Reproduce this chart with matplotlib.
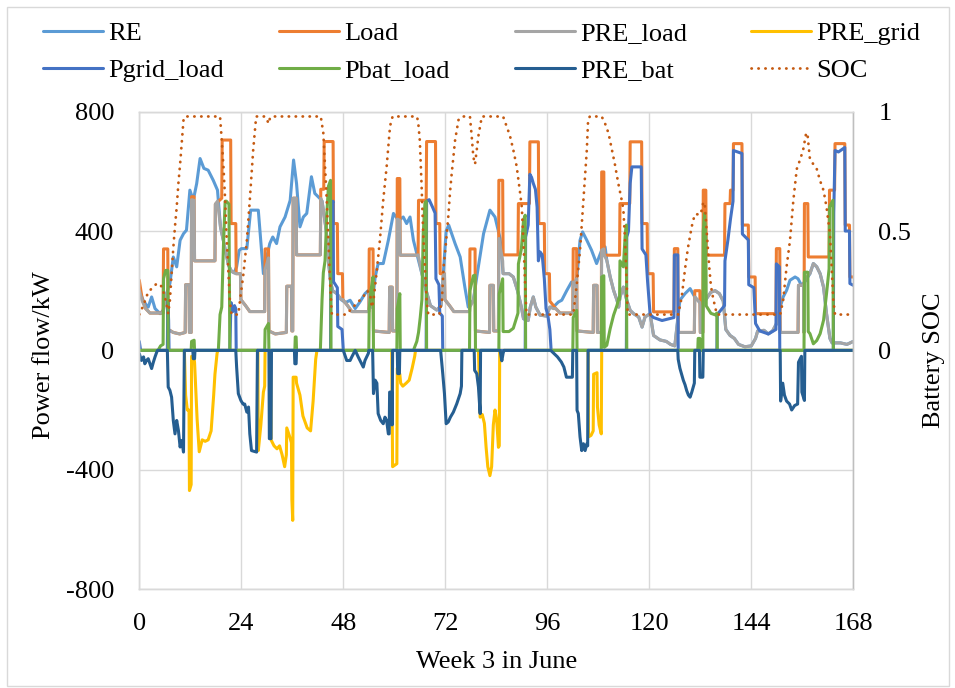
import matplotlib
matplotlib.use("Agg")
import matplotlib.pyplot as plt
from matplotlib.patches import Rectangle

plt.rcParams['font.family'] = ['Liberation Serif', 'DejaVu Serif']

# ---------------- data (hour, value) ----------------
re_pts = [(0, 201), (0.9, 168), (1.7, 151), (2.1, 145), (2.9, 179), (3.7, 140), (4.9, 123), (5.6, 134), (6.4, 190),
          (7.2, 224), (8.0, 313), (8.8, 280), (9.6, 369), (10.4, 391), (11.1, 403), (11.9, 537), (12.7, 503),
          (13.5, 559), (14.3, 643), (15.2, 610), (16.2, 604), (17.4, 570), (18.4, 537), (19.1, 414), (19.6, 380),
          (20.2, 340), (21.0, 285), (21.7, 265), (22.3, 260), (22.9, 280), (23.5, 335), (24.0, 341), (25.3, 341),
          (26.2, 470), (28.0, 470), (29.2, 257), (30.0, 313), (30.7, 358), (31.4, 380), (32.3, 358), (33.1, 414),
          (34.3, 447), (35.5, 503), (36.3, 638), (37.0, 559), (37.8, 414), (38.6, 447), (39.4, 459), (40.5, 582),
          (41.3, 526), (42.5, 509), (43.0, 500), (43.5, 450), (44.0, 400), (44.5, 300), (45.0, 230), (45.5, 200),
          (46.5, 190), (47.5, 170), (48.5, 160), (49.6, 168), (50.8, 140), (51.9, 162), (53.1, 190), (53.9, 201),
          (54.7, 145), (55.5, 246), (56.2, 291), (57.4, 291), (58.6, 369), (59.8, 459), (61.0, 436), (62.1, 447),
          (62.9, 425), (63.7, 447), (64.5, 369), (65.3, 324), (66.5, 257), (67.5, 200), (68.5, 150), (70.0, 135),
          (71.0, 150), (71.5, 250), (72.2, 400), (72.8, 420), (74.3, 358), (75.5, 313), (76.6, 212), (77.4, 145),
          (78.6, 168), (79.4, 246), (81.0, 391), (82.5, 470), (83.7, 447), (84.9, 375), (85.6, 257), (87.0, 257),
          (88.0, 246), (89.0, 200), (89.9, 145), (90.4, 106), (91.5, 100), (92.0, 145), (92.7, 179), (93.3, 145),
          (94.3, 118), (95.8, 115), (96.6, 145), (97.4, 145), (98.6, 162), (99.4, 168), (100.6, 201), (101.7, 229),
          (102.5, 220), (103.0, 250), (103.7, 369), (104.3, 397), (105.3, 369), (106.4, 336), (107.6, 291),
          (108.8, 336), (109.6, 347), (110.0, 302), (110.8, 246), (111.6, 201), (112.4, 168), (112.8, 145),
          (113.1, 179), (113.9, 212), (114.7, 168), (115.5, 134), (116.3, 123), (117.5, 112), (118.3, 78),
          (119.0, 112), (120.2, 123), (121.0, 50), (122.5, 35), (124.0, 30), (125.0, 20), (126.0, 15), (126.8, 120),
          (127.2, 168), (128.4, 190), (129.6, 207), (130.7, 179), (131.9, 160), (132.7, 150), (133.3, 170),
          (134.5, 195), (135.5, 200), (136.5, 190), (137.4, 165), (138.0, 70), (139.0, 50), (140.0, 40), (141.0, 20),
          (142.5, 12), (144.0, 15), (145.0, 40), (145.5, 65), (147.0, 67), (148.0, 55), (149.0, 65), (150.0, 90),
          (150.8, 145), (151.5, 179), (152.3, 201), (153.1, 235), (154.3, 246), (155.0, 240), (155.8, 218),
          (156.6, 230), (157.8, 257), (158.6, 291), (159.4, 280), (160.2, 257), (161.0, 212), (161.7, 123),
          (162.5, 40), (163.0, 25), (165.0, 25), (166.5, 20), (168.0, 30)]

load_pts = [(0, 235), (0.7, 170), (1.5, 140), (2.5, 125), (5.6, 125), (5.7, 340), (6.7, 340), (6.8, 70), (8, 60),
            (9.5, 55), (10.8, 60), (10.9, 220), (11.7, 220), (11.8, 60), (12.2, 60), (12.3, 515), (12.9, 515),
            (13.0, 300), (17.8, 300), (17.9, 490), (19.4, 510), (19.5, 705), (21.5, 705), (21.6, 425), (22.7, 425),
            (22.8, 257), (23.8, 257), (23.9, 170),
            (25, 150), (26, 130), (29.5, 130), (29.6, 340), (30.4, 340), (30.5, 65), (32, 55), (34.6, 60), (34.7, 215),
            (35.8, 215), (35.9, 65), (36.1, 65), (36.2, 510), (36.9, 510), (37.0, 320), (42.6, 320), (42.7, 540),
            (43.4, 540), (43.5, 700), (45.6, 700), (45.7, 425), (46.6, 425), (46.7, 257), (47.8, 257), (47.9, 170),
            (49, 150), (50, 130), (54.0, 130), (54.1, 340), (55.0, 340), (55.1, 65), (58.8, 60), (58.9, 212),
            (59.5, 212), (59.6, 65), (60.6, 65), (60.7, 576), (61.3, 576), (61.4, 319), (65.6, 319), (65.7, 503),
            (67.5, 503), (67.6, 700), (69.7, 700), (69.8, 425), (70.7, 425), (70.8, 257), (71.8, 257), (71.9, 170),
            (73, 150), (74, 130), (77.7, 130), (77.8, 340), (79.0, 340), (79.1, 65), (82.4, 60), (82.5, 218),
            (83.3, 218), (83.4, 65), (84.5, 65), (84.6, 570), (85.5, 570), (85.6, 320), (89.1, 320), (89.2, 492),
            (91.8, 492), (91.9, 699), (93.9, 699), (94.0, 425), (95.3, 425), (95.4, 257), (96.5, 257), (96.6, 165),
            (98, 140), (99, 125), (102.0, 125), (102.1, 341), (102.9, 341), (103.0, 65), (106.8, 60), (106.9, 218),
            (107.7, 218), (107.8, 60), (108.7, 60), (108.8, 598), (109.3, 598), (109.4, 319), (113.0, 319),
            (113.1, 492), (115.4, 492), (115.5, 699), (118.2, 699), (118.3, 425), (119.5, 425), (119.6, 257),
            (120.9, 257), (121.0, 129),
            (125.8, 129), (125.9, 341), (126.7, 341), (126.8, 60), (130.6, 60), (130.7, 200), (131.9, 200),
            (132.0, 60), (132.6, 60), (132.7, 537), (133.3, 537), (133.4, 319), (137.7, 319), (137.8, 492),
            (139.0, 492), (139.1, 537), (139.7, 537), (139.8, 693), (141.8, 693), (141.9, 420), (143.3, 420),
            (143.4, 246), (144.9, 246), (145.0, 123),
            (149.8, 123), (149.9, 341), (150.7, 341), (150.8, 60), (155.0, 60), (155.1, 218), (156.3, 218),
            (156.4, 60), (156.5, 492), (157.3, 492), (157.4, 313), (162.3, 313), (162.4, 537), (163.6, 537),
            (163.7, 693), (166.0, 693), (166.1, 420), (167.1, 420), (167.2, 246), (168, 246)]

pre_load_pts = [(0, 201), (0.7, 165), (1.5, 140), (2.5, 125), (5.6, 125), (5.7, 134), (6.4, 190), (6.7, 195),
                (6.8, 70), (8, 60), (9.5, 55), (10.8, 60), (10.9, 220), (11.7, 220), (11.8, 60), (12.2, 60),
                (12.3, 505), (12.9, 503), (13.0, 300), (17.8, 300), (17.9, 490), (18.4, 500), (19.1, 414),
                (19.6, 380), (20.2, 340), (21.0, 285), (21.7, 265), (22.3, 260), (22.7, 257), (23.8, 257),
                (23.9, 170),
                (25, 150), (26, 130), (29.5, 130), (29.6, 270), (30.4, 310), (30.5, 65), (32, 55), (34.6, 60),
                (34.7, 215), (35.8, 215), (35.9, 65), (36.1, 65), (36.2, 510), (36.9, 510), (37.0, 320), (42.6, 320),
                (42.7, 509), (43.0, 500), (43.4, 460), (44.0, 400), (44.5, 300), (45.0, 230), (45.5, 200),
                (46.5, 190), (47.5, 170), (47.9, 170),
                (49, 150), (50, 130), (54.0, 130), (54.1, 190), (54.7, 145), (55.0, 200), (55.1, 65), (58.8, 60),
                (58.9, 212), (59.5, 212), (59.6, 65), (60.6, 65), (60.7, 440), (61.3, 436), (61.4, 319), (65.3, 319),
                (65.6, 320), (66.5, 257), (67.5, 200), (68.5, 150), (70.0, 135), (71.0, 150), (71.5, 250),
                (71.8, 257), (71.9, 170),
                (73, 150), (74, 130), (77.7, 130), (77.8, 145), (78.6, 168), (79.0, 200), (79.1, 65), (82.4, 60),
                (82.5, 218), (83.3, 218), (83.4, 65), (84.5, 65), (84.6, 375), (85.5, 300), (85.6, 257), (87.0, 257),
                (88.0, 246), (89.0, 200), (89.9, 145), (90.4, 106), (91.5, 100), (92.0, 145), (92.7, 179),
                (93.3, 145), (94.3, 118), (95.8, 115), (96.6, 145),
                (97.4, 140), (98, 140), (99, 125), (102.0, 125), (102.1, 229), (102.5, 220), (102.9, 240),
                (103.0, 65), (106.8, 60), (106.9, 218), (107.7, 218), (107.8, 60), (108.7, 60), (108.8, 336),
                (109.3, 340), (109.4, 319), (110.0, 302), (110.8, 246), (111.6, 201), (112.4, 168), (112.8, 145),
                (113.1, 179), (113.9, 212), (114.7, 168), (115.5, 134), (116.3, 123), (117.5, 112), (118.3, 78),
                (119.0, 112), (120.2, 123), (121.0, 50), (122.5, 35), (124.0, 30), (125.0, 20), (126.0, 15),
                (126.7, 100),
                (126.8, 60), (130.6, 60), (130.7, 179), (131.9, 160), (132.0, 60), (132.6, 60), (132.7, 150),
                (133.3, 170), (134.5, 195), (135.5, 200), (136.5, 190), (137.4, 165), (138.0, 70), (139.0, 50),
                (140.0, 40), (141.0, 20), (142.5, 12), (144.0, 15), (145.0, 40), (145.5, 65), (147.0, 67),
                (148.0, 55), (149.0, 65), (149.9, 90), (150.7, 140), (150.8, 60),
                (155.0, 60), (155.1, 218), (156.3, 218), (156.4, 60), (156.5, 230), (157.3, 250), (157.8, 257),
                (158.6, 291), (159.4, 280), (160.2, 257), (161.0, 212), (161.7, 123), (162.5, 40), (163.0, 25),
                (165.0, 25), (166.5, 20), (168.0, 30)]

pre_grid_pts = [(0, 0), (10.6, 0), (10.9, -150), (11.3, -200), (11.7, -200), (11.8, -470), (12.2, -450),
                (12.3, -20), (12.9, -30), (13.0, -40), (13.6, -230), (14.1, -340), (14.8, -300), (15.5, -305),
                (16.2, -300), (16.9, -270), (17.5, -150), (17.8, -80), (18.3, -10), (18.5, 0),
                (27.9, 0), (28.0, -336), (28.6, -250), (29.2, -140), (29.5, -120), (29.6, 0), (30.9, 0),
                (31.0, -300), (31.7, -320), (32.4, -330), (33.0, -320), (33.6, -350), (34.2, -390), (34.6, -350),
                (34.7, -260), (35.4, -290), (35.8, -310), (35.9, -500), (36.1, -570), (36.2, -90), (36.9, -90),
                (37.0, -110), (37.8, -150), (38.5, -220), (39.5, -260), (40.3, -270), (40.9, -170), (41.5, -30),
                (41.8, 0),
                (59.4, 0), (59.6, -390), (60.6, -380), (60.7, -60), (61.3, -80), (61.5, -110), (62.0, -120),
                (62.8, -110), (63.5, -100), (64.2, -60), (64.8, -20), (65.0, 0),
                (79.8, 0), (80.2, -224), (80.7, -215), (81.2, -245), (81.6, -325), (82.0, -390), (82.5, -420),
                (82.9, -390), (83.3, -250), (83.7, -200), (84.1, -235), (84.5, -325), (84.7, -320), (84.8, 0),
                (105.6, 0), (105.7, -290), (106.3, -285), (106.8, -270), (106.9, -80), (107.7, -75), (107.8, -190),
                (108.2, -250), (108.7, -280), (108.8, 0), (168, 0)]

pgrid_load_pts = [(0, 30), (0.3, 0), (6.6, 0), (6.7, 170), (6.9, 100), (7.0, 0), (21.3, 0), (21.5, 120),
                  (21.6, 160), (22.0, 130), (22.4, 150), (22.7, 140), (22.8, 0),
                  (45.0, 0), (45.1, 480), (45.6, 500), (45.7, 230), (46.6, 210), (46.7, 80), (47.7, 70), (48.0, 0),
                  (67.5, 0), (67.6, 500), (68.2, 505), (69.0, 480), (69.6, 460), (69.8, 240), (70.5, 220),
                  (70.7, 125), (71.3, 115), (71.4, 0),
                  (90.8, 0), (90.9, 380), (91.5, 420), (91.9, 590), (92.3, 580), (92.7, 560), (93.2, 540),
                  (93.6, 480), (93.9, 300), (94.3, 330), (94.8, 320), (95.3, 240), (95.7, 140), (96.1, 120),
                  (96.6, 70), (96.9, 0),
                  (114.6, 0), (114.7, 380), (115.1, 400), (115.5, 560), (115.9, 615), (118.1, 615), (118.3, 340),
                  (119.2, 320), (119.6, 230), (120.2, 120), (121.0, 110), (123.0, 100), (125.8, 110), (125.9, 320),
                  (126.7, 320), (126.8, 0),
                  (135.9, 0), (136.0, 120), (137.7, 150), (137.8, 300), (138.5, 370), (139.1, 440), (139.7, 500),
                  (139.8, 670), (141.8, 660), (141.9, 390), (143.3, 370), (143.4, 220), (144.6, 210), (145.0, 90),
                  (146.0, 65), (148.0, 55), (149.8, 70), (149.9, 290), (150.6, 280), (150.7, 0),
                  (163.3, 0), (163.4, 460), (163.7, 670), (164.5, 665), (166.0, 680), (166.1, 400), (167.1, 400),
                  (167.2, 224), (168.0, 218)]

pbat_load_pts = [(0, 0), (4.4, 0), (5.0, 15), (5.6, 20), (5.7, 240), (6.2, 268), (6.7, 268), (6.8, 0), (12.2, 0),
                 (12.3, 30), (12.9, 34), (13.0, 0), (18.6, 0), (19.0, 120), (19.4, 145), (19.8, 350), (20.2, 500),
                 (20.5, 500), (21.1, 490), (21.3, 0),
                 (29.5, 0), (29.6, 70), (30.4, 90), (30.5, 0), (36.6, 0), (36.7, 45), (36.9, 45), (37.0, 0),
                 (42.6, 0), (43.0, 170), (43.3, 260), (43.7, 300), (44.1, 450), (44.5, 550), (45.0, 570), (45.1, 0),
                 (54.0, 0), (54.1, 140), (54.5, 200), (55.0, 246), (55.1, 0), (60.6, 0), (60.7, 140), (61.3, 190),
                 (61.4, 0), (64.5, 0), (65.3, 30), (65.7, 60), (66.1, 110), (66.5, 170), (66.8, 390), (67.2, 492),
                 (67.5, 500), (67.6, 0),
                 (77.7, 0), (77.8, 200), (78.6, 250), (79.0, 252), (79.1, 0), (84.6, 0), (84.7, 190), (85.5, 240),
                 (85.6, 63), (87.0, 63), (88.0, 74), (89.0, 120), (89.1, 125), (89.2, 290), (89.9, 340),
                 (90.4, 436), (90.8, 453), (90.9, 0),
                 (102.0, 0), (102.1, 110), (102.9, 134), (103.0, 0), (108.7, 0), (108.8, 246), (109.3, 250),
                 (109.4, 10), (110.0, 17), (110.8, 73), (111.6, 118), (112.4, 151), (112.8, 174), (113.0, 170),
                 (113.1, 300), (113.9, 280), (114.3, 380), (114.6, 420), (114.7, 0),
                 (131.4, 0), (131.5, 40), (131.9, 40), (132.0, 0), (132.6, 0), (132.7, 400), (133.0, 459),
                 (133.3, 380), (133.4, 149), (134.5, 124), (135.5, 119), (135.9, 125), (136.0, 0),
                 (156.4, 0), (156.5, 262), (157.3, 262), (157.4, 63), (157.8, 56), (158.6, 22), (159.4, 33),
                 (160.2, 56), (161.0, 101), (161.7, 190), (162.3, 273), (162.4, 480), (163.2, 503), (163.3, 0),
                 (168, 0)]

pre_bat_pts = [(0, -11), (0.5, -34), (1.0, -22), (1.3, -45), (1.7, -34), (2.1, -28), (2.5, -45), (2.9, -61),
               (3.3, -40), (3.7, -22), (4.1, -6), (4.3, 0), (6.6, 0), (6.8, -123), (7.2, -134), (7.6, -157),
               (8.0, -235), (8.4, -280), (8.8, -235), (9.2, -268), (9.6, -324), (10.0, -302), (10.4, -341),
               (10.6, 0), (12.6, 0), (12.7, -28), (13.0, -28), (13.1, 0),
               (22.7, 0), (22.9, -56), (23.3, -145), (23.9, -168), (24.4, -180), (24.8, -180), (25.3, -207),
               (25.7, -190), (26.0, -280), (26.4, -336), (27.6, -341), (27.8, 0), (30.5, 0), (30.6, -296),
               (31.0, -296), (31.1, 0), (36.5, 0), (36.6, -45), (36.9, -45), (37.0, 0),
               (48.0, 0), (48.8, -34), (49.6, -34), (50.0, -22), (50.8, 0), (51.5, -22), (52.3, -45), (52.7, -56),
               (53.1, -34), (53.9, -10), (54.0, 0), (54.9, 0), (55.1, -145), (55.5, -100), (55.9, -110),
               (56.2, -212), (56.8, -235), (57.4, -246), (57.8, -224), (58.2, -235), (58.6, -280), (58.8, -280),
               (58.9, -140), (59.4, -140), (59.5, -250), (59.6, 0), (60.7, 0), (60.8, -78), (61.2, -78), (61.3, 0),
               (70.9, 0), (71.4, -78), (71.8, -145), (72.2, -246), (72.7, -240), (73.2, -224), (73.9, -207),
               (74.7, -179), (75.5, -145), (75.8, -120), (75.9, 0), (78.8, 0), (78.9, -67), (79.4, -78),
               (79.8, -123), (80.2, -212), (80.3, 0), (84.9, 0), (85.3, -35), (85.6, -10), (85.8, 0),
               (96.8, 0), (97.6, -11), (98.4, -22), (99.3, -39), (99.9, -56), (100.5, -90), (101.3, -90),
               (101.9, -90), (102.0, 0), (102.9, 0), (103.0, -201), (103.3, -212), (103.7, -290), (104.1, -336),
               (104.5, -313), (104.9, -336), (105.3, -313), (105.5, -320), (105.6, 0),
               (126.7, 0), (126.8, -30), (127.2, -60), (127.6, -80), (128.0, -100), (128.4, -115), (128.8, -135),
               (129.2, -150), (129.6, -157), (130.0, -140), (130.4, -120), (130.6, -110), (130.7, 0), (131.8, 0),
               (131.9, -90), (132.6, -90), (132.7, 0),
               (150.8, 0), (150.9, -170), (151.4, -110), (151.8, -150), (152.3, -170), (153.0, -180),
               (153.5, -200), (154.2, -185), (154.9, -180), (155.1, -40), (155.8, -20), (155.9, -140),
               (156.5, -168), (156.6, 0), (168, 0)]

soc_pts = [(0, 0.15), (1.0, 0.19), (2.1, 0.245), (3.0, 0.26), (4.1, 0.28), (5.0, 0.275), (5.6, 0.25), (6.4, 0.196),
           (6.8, 0.154), (7.2, 0.21), (7.6, 0.32), (8.0, 0.43), (8.4, 0.52), (8.8, 0.60), (9.2, 0.70), (9.6, 0.78),
           (10.0, 0.87), (10.4, 0.965), (10.7, 0.98), (19.0, 0.98), (19.4, 0.88), (19.8, 0.77), (20.2, 0.63),
           (20.5, 0.49), (20.9, 0.35), (21.3, 0.21), (21.7, 0.15), (23.3, 0.15), (23.7, 0.21), (24.5, 0.32),
           (25.3, 0.46), (26.0, 0.63), (26.8, 0.84), (27.5, 0.98), (29.6, 0.98), (30.0, 0.97), (30.4, 0.95),
           (30.7, 0.97), (31.0, 0.98), (42.7, 0.98), (43.3, 0.91), (43.7, 0.77), (44.1, 0.63), (44.5, 0.46),
           (44.9, 0.28), (45.3, 0.15), (48.7, 0.15), (49.6, 0.168), (51.1, 0.196), (52.7, 0.224), (53.5, 0.25),
           (54.3, 0.24), (54.7, 0.18), (55.1, 0.21), (55.8, 0.32), (56.6, 0.46), (57.4, 0.63), (58.2, 0.77),
           (59.0, 0.94), (59.6, 0.98), (65.3, 0.98), (65.6, 0.96), (66.0, 0.88), (66.4, 0.70), (66.8, 0.49),
           (67.2, 0.35), (67.6, 0.21), (68.0, 0.15), (70.6, 0.15), (71.2, 0.21), (71.6, 0.35), (72.0, 0.42),
           (72.7, 0.56), (73.1, 0.66), (73.5, 0.74), (74.3, 0.88), (75.1, 0.965), (75.9, 0.98), (77.8, 0.98),
           (78.2, 0.90), (78.6, 0.81), (79.0, 0.78), (79.4, 0.84), (79.8, 0.90), (80.2, 0.94), (80.6, 0.98),
           (85.6, 0.98), (86.4, 0.94), (87.2, 0.90), (88.0, 0.84), (88.8, 0.77), (89.6, 0.66), (90.0, 0.60),
           (90.4, 0.45), (90.8, 0.27), (91.1, 0.15), (102.1, 0.15), (102.9, 0.27), (103.7, 0.42), (104.5, 0.63),
           (105.3, 0.84), (105.6, 0.965), (106.0, 0.98), (108.8, 0.98), (109.6, 0.95), (110.4, 0.91),
           (111.1, 0.85), (111.9, 0.78), (112.7, 0.70), (113.5, 0.63), (113.9, 0.59), (114.3, 0.46),
           (114.7, 0.27), (114.9, 0.15), (126.8, 0.15), (127.6, 0.22), (128.4, 0.34), (129.1, 0.43),
           (130.0, 0.52), (130.7, 0.57), (131.5, 0.57), (132.1, 0.57), (132.7, 0.62), (133.0, 0.62),
           (133.3, 0.55), (133.7, 0.45), (134.1, 0.35), (134.5, 0.27), (135.0, 0.22), (135.5, 0.18),
           (135.9, 0.15), (150.8, 0.15), (151.5, 0.21), (152.3, 0.35), (153.1, 0.46), (153.9, 0.63),
           (154.7, 0.76), (155.5, 0.80), (156.2, 0.84), (156.9, 0.91), (157.2, 0.91), (157.8, 0.80),
           (158.6, 0.78), (159.4, 0.76), (160.2, 0.71), (161.0, 0.67), (161.7, 0.60), (162.5, 0.49),
           (162.9, 0.35), (163.3, 0.21), (163.7, 0.15), (168.0, 0.15)]

series_names = ["RE", "Load", "PRE_load", "PRE_grid", "Pgrid_load", "Pbat_load", "PRE_bat", "SOC"]
x_ticks = [0, 24, 48, 72, 96, 120, 144, 168]
y_ticks = [-800, -400, 0, 400, 800]
soc_ticks = [0, 0.5, 1]
soc_tick_labels = ["0", "0.5", "1"]

# ---------------- styling ----------------
colors = {"RE": "#5B9BD5", "Load": "#ED7D31", "PRE_load": "#A5A5A5", "PRE_grid": "#FFC000",
          "Pgrid_load": "#4472C4", "Pbat_load": "#70AD47", "PRE_bat": "#255E91", "SOC": "#C55A11"}
FS = 19
LW = 2.2
GRID = "#D9D9D9"

W, H = 955, 688
fig = plt.figure(figsize=(W / 100, H / 100), dpi=100)
fig.patch.set_facecolor("white")
fig.patches.append(Rectangle((7 / W, 2 / H), (949 - 7) / W, (681 - 2) / H, transform=fig.transFigure,
                             fill=False, edgecolor=GRID, linewidth=1.0))

ax_l, ax_r, ax_t, ax_b = 139.3, 853.3, 111.7, 589.0
ax = fig.add_axes([ax_l / W, 1 - ax_b / H, (ax_r - ax_l) / W, (ax_b - ax_t) / H])
ax2 = ax.twinx()

def unzip(pts):
    return [p[0] for p in pts], [p[1] for p in pts]

handles = []
for name, pts in zip(series_names[:7], [re_pts, load_pts, pre_load_pts, pre_grid_pts,
                                        pgrid_load_pts, pbat_load_pts, pre_bat_pts]):
    xs, ys = unzip(pts)
    ln, = ax.plot(xs, ys, color=colors[name], lw=LW, solid_joinstyle="round",
                  solid_capstyle="round", label=name)
    handles.append(ln)

xs, ys = unzip(soc_pts)
soc_ln, = ax2.plot(xs, ys, color=colors["SOC"], lw=2.0, linestyle=(0, (0.1, 2.4)),
                   dash_capstyle="round", label="SOC")
handles.append(soc_ln)

ax.set_xlim(0, 168)
ax.set_ylim(-800, 800)
ax.set_xticks(x_ticks)
ax.set_yticks(y_ticks)
ax.set_yticklabels([str(v) for v in y_ticks])
ax.grid(True, color=GRID, lw=1.0)
ax.set_axisbelow(True)
ax.tick_params(axis="both", length=0, labelsize=FS)
ax.tick_params(axis="y", pad=18)
ax.tick_params(axis="x", pad=17)
for sp in ax.spines.values():
    sp.set_color(GRID)
    sp.set_linewidth(1.0)

ax2.set_ylim(-1, 1)
ax2.set_yticks(soc_ticks)
ax2.set_yticklabels(soc_tick_labels)
ax2.tick_params(axis="y", length=0, labelsize=FS, pad=18)
for sp in ax2.spines.values():
    sp.set_color(GRID)
    sp.set_linewidth(1.0)
ax2.spines["right"].set_color("#BFBFBF")

ax.set_xlabel("Week 3 in June", fontsize=FS)
ax.xaxis.set_label_coords(0.5, -(662 - ax_b) / (ax_b - ax_t))
ax.set_ylabel("Power flow/kW", fontsize=FS)
ax.yaxis.set_label_coords((44 - ax_l) / (ax_r - ax_l), (ax_b - 355) / (ax_b - ax_t))
ax2.set_ylabel("Battery SOC", fontsize=FS, rotation=90)
ax2.yaxis.set_label_coords((934 - ax_l) / (ax_r - ax_l), (ax_b - 360) / (ax_b - ax_t))
for lab in (ax.xaxis.label, ax.yaxis.label, ax2.yaxis.label):
    lab.set_verticalalignment("center")
    lab.set_horizontalalignment("center")

# legend: four columns of two entries, equally spaced as in the reference
col_x = [43.3, 279.3, 515.3, 751.3]
row_center = (32.7 + 71.0) / 2
for c in range(4):
    hs = [handles[c], handles[c + 4]]
    fig.legend(handles=hs, labels=[h.get_label() for h in hs], loc="center left",
               bbox_to_anchor=(col_x[c] / W, 1 - row_center / H), frameon=False, fontsize=FS,
               handlelength=2.25, handletextpad=0.22, labelspacing=0.5, borderpad=0,
               borderaxespad=0)

fig.savefig("out.png", dpi=100, facecolor="white")
